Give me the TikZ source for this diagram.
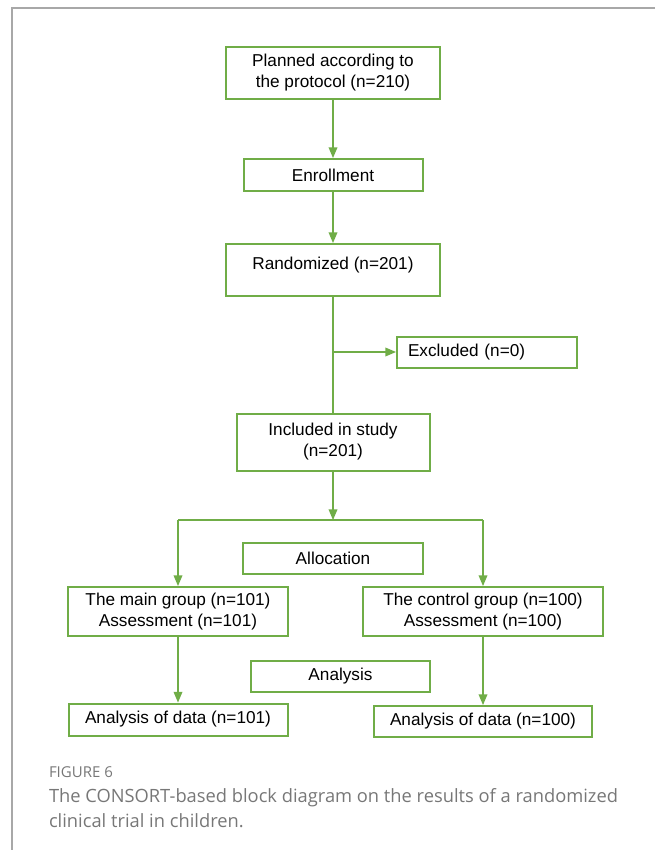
\documentclass[tikz,border=0pt]{standalone}
\usepackage{fontspec}
\setmainfont{Liberation Sans}
\newfontfamily\captionfont{Open Sans}
\usetikzlibrary{arrows}

\definecolor{consortgreen}{HTML}{70AD47}
\definecolor{framegray}{HTML}{A8A8A8}
\definecolor{captiongray}{HTML}{777777}

\begin{document}
\begin{tikzpicture}[x=1pt,y=1pt,->,>=triangle 45,shorten >=0pt,auto,node distance=100pt,
  line width=2pt,main node/.style={rectangle,draw=consortgreen,text=black,
    font=\fontsize{17.2}{21}\selectfont,align=center,inner sep=0pt}]

  \useasboundingbox (0,0) rectangle (655,-850);
  \draw[-,framegray,line width=1.2pt] (655,-8) -- (12,-8) -- (12,-850);

  \node[main node,minimum width=214pt,minimum height=52pt] (Planned) at (333,-73) {Planned according to\\the protocol (n=210)};
  \node[main node,minimum width=179pt,minimum height=32pt] (Enroll) [node distance=102pt, below of=Planned] {Enrollment};
  \node[main node,minimum width=214pt,minimum height=52pt,text depth=13pt] (Rand) [node distance=95pt, below of=Enroll] {Randomized (n=201)};
  \node[main node,text width=158pt,minimum height=31pt,align=left,inner xsep=11pt] (Excl) at (487,-352) {Excluded (n=0)};
  \node[main node,minimum width=193pt,minimum height=57pt] (Incl) [node distance=172pt, below of=Rand] {Included in study\\(n=201)};
  \coordinate[node distance=78pt, below of=Incl] (Split);
  \node[main node,minimum width=180pt,minimum height=31pt] (Alloc) [node distance=116pt, below of=Incl] {Allocation};
  \node[main node,minimum width=220pt,minimum height=49pt] (Main) at (178,-611.5) {The main group (n=101)\\Assessment (n=101)};
  \node[main node,minimum width=240pt,minimum height=49pt] (Ctrl) [node distance=305pt, right of=Main] {The control group (n=100)\\Assessment (n=100)};
  \node[main node,minimum width=179pt,minimum height=31pt] (Anal) at (340.5,-676.5) {Analysis};
  \node[main node,minimum width=219pt,minimum height=32pt] (DataMain) [node distance=108pt, below of=Main] {Analysis of data (n=101)};
  \node[main node,minimum width=218pt,minimum height=31pt] (DataCtrl) [node distance=110pt, below of=Ctrl] {Analysis of data (n=100)};

  \coordinate (ExclSplit) at (Rand.south |- Excl.west);
  \coordinate (SplitMain) at (Main.north |- Split);
  \coordinate (SplitCtrl) at (Ctrl.north |- Split);

  \path[consortgreen,line width=1.5pt]
    (Planned) edge (Enroll)
    (Enroll) edge (Rand)
    (Rand) edge[-] (Incl)
    (ExclSplit) edge (Excl)
    (Incl) edge (Split)
    (SplitMain) edge[-] (SplitCtrl)
    (SplitMain) edge (Main)
    (SplitCtrl) edge (Ctrl)
    (Main) edge (DataMain)
    (Ctrl) edge (DataCtrl)
    ;

  \node[anchor=base west,inner sep=0pt,text=captiongray,font=\captionfont\fontsize{15}{18}\selectfont] (FigLabel) at (48,-777) {FIGURE 6};
  \node[anchor=north west,inner sep=0pt,text=captiongray,align=left,font=\captionfont\fontsize{18.3}{25}\selectfont] (Caption) at (48,-787) {The CONSORT-based block diagram on the results of a randomized\\clinical trial in children.};
\end{tikzpicture}
\end{document}
